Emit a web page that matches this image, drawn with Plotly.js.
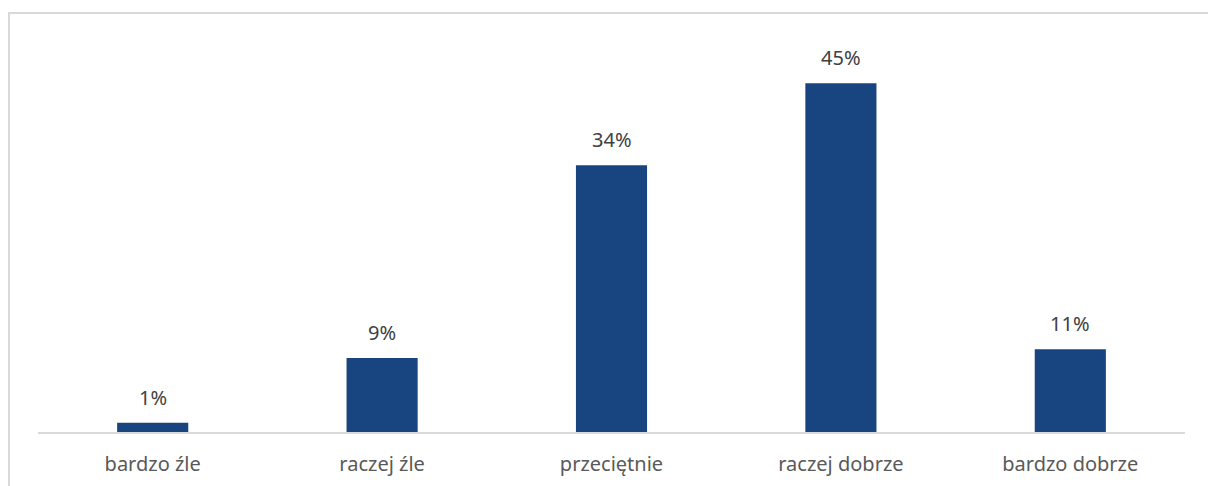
<!DOCTYPE html>
<html>
<head>
<meta charset="utf-8">
<script src="https://cdn.plot.ly/plotly-3.0.1.min.js"></script>
<style>
html,body{margin:0;padding:0;background:#fff;}
#frame{position:absolute;left:8px;top:12px;width:1300px;height:600px;border-left:2px solid #d9d9d9;border-top:2px solid #d9d9d9;}
#chart{position:absolute;left:0;top:0;width:1208px;height:486px;}
</style>
</head>
<body>
<div id="frame"></div>
<div id="chart"></div>
<script>
const categories = ["bardzo źle", "raczej źle", "przeciętnie", "raczej dobrze", "bardzo dobrze"];
const values = [1.2, 9.5, 34.2, 44.7, 10.6];
const labels = ["1%", "9%", "34%", "45%", "11%"];

const trace = {
  type: "bar",
  x: categories,
  y: values,
  marker: {color: "#18457f"},
  hoverinfo: "skip"
};

const annotations = categories.map((c, i) => ({
  x: c, y: values[i], xref: "x", yref: "y",
  text: labels[i], showarrow: false,
  yanchor: "bottom", yshift: 10,
  font: {family: "Noto Sans, sans-serif", size: 20, color: "#404040"}
}));

const layout = {
  width: 1208, height: 486,
  margin: {l: 38, r: 23, t: 42, b: 54},
  paper_bgcolor: "rgba(0,0,0,0)",
  plot_bgcolor: "rgba(0,0,0,0)",
  bargap: 0.69,
  showlegend: false,
  xaxis: {
    showline: true, linecolor: "#d9d9d9", linewidth: 2,
    ticks: "", ticklabelstandoff: 13,
    tickfont: {family: "Noto Sans, sans-serif", size: 20, color: "#595959"},
    showgrid: false, zeroline: false, fixedrange: true
  },
  yaxis: {
    range: [0, 50], visible: false, showgrid: false, zeroline: false, fixedrange: true
  },
  annotations: annotations
};

Plotly.newPlot("chart", [trace], layout, {displayModeBar: false, staticPlot: true});
</script>
</body>
</html>
